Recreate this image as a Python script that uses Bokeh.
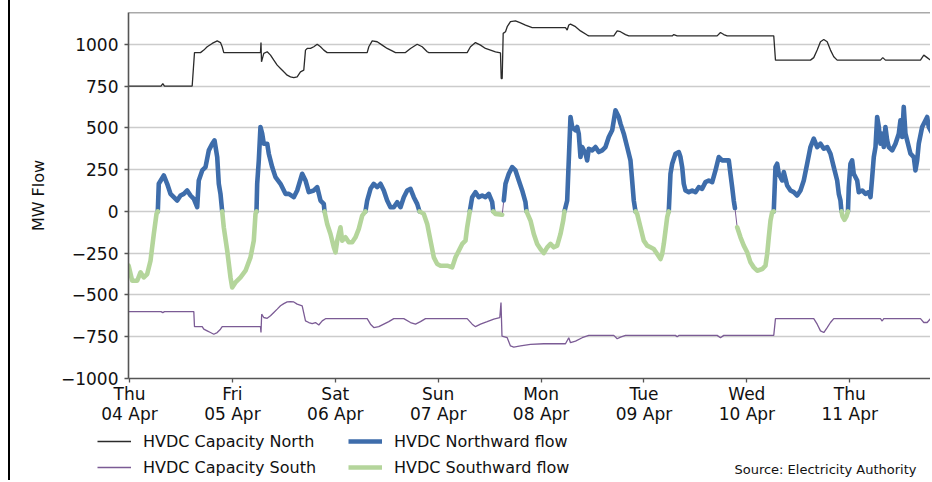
import numpy as np
import pandas as pd
from bokeh.plotting import figure
from bokeh.layouts import row, column
from bokeh.models import (Range1d, FixedTicker, DatetimeTickFormatter, Legend,
                          LegendItem, Label, Span, Div, Spacer)
from bokeh.embed import file_html
from bokeh.resources import INLINE

START = "2024-04-04"
DAY_TICKS = pd.date_range(START, periods=8, freq="D")
Y_TICKS = [-1000, -750, -500, -250, 0, 250, 500, 750, 1000]

# HVDC net flow (MW), positive = northward; hours after 04 Apr 00:00
flow_hours = [
    -0.2, 0.63, 1.80, 2.57, 3.34, 4.13, 4.90, 5.67, 6.30, 6.60, 6.83, 8.00, 8.79, 9.56,
    10.33, 11.13, 11.90, 12.66, 13.46, 14.23, 15.00, 15.79, 16.16, 16.96, 17.73, 18.50,
    19.29, 19.83, 20.46, 20.83, 21.22, 21.62, 21.99, 22.79, 23.56, 23.95, 24.72, 25.89,
    27.06, 28.22, 28.99, 29.39, 29.62, 29.78, 30.16, 30.55, 30.95, 31.32, 32.12, 32.49,
    33.28, 34.05, 35.22, 36.38, 37.16, 38.32, 39.11, 40.28, 41.05, 41.82, 42.99, 43.78,
    44.55, 45.32, 45.48, 46.11, 46.88, 47.65, 48.05, 48.45, 48.82, 49.21, 49.61, 50.38,
    51.15, 51.94, 52.71, 53.48, 54.28, 55.04, 55.44, 56.21, 56.98, 57.77, 58.54, 59.31,
    60.10, 60.87, 61.64, 62.44, 63.21, 63.98, 64.77, 65.54, 66.31, 67.10, 67.64, 68.64,
    69.44, 70.21, 70.98, 71.77, 72.54, 74.10, 75.27, 76.04, 76.81, 77.60, 78.37, 78.76,
    79.37, 79.93, 80.70, 81.47, 82.26, 83.03, 83.80, 84.60, 84.83, 85.36, 86.93, 87.30,
    87.70, 88.47, 89.26, 90.03, 90.80, 91.59, 92.36, 92.59, 93.53, 94.30, 95.09, 95.86,
    96.63, 97.43, 98.20, 98.97, 99.76, 100.53, 101.16, 101.46, 102.09, 102.86, 103.25,
    104.03, 104.42, 104.79, 105.19, 105.59, 106.36, 106.75, 107.13, 107.92, 108.69,
    109.46, 110.25, 111.02, 111.79, 112.58, 113.35, 114.12, 114.52, 115.29, 116.08,
    116.85, 117.24, 117.62, 118.02, 118.41, 119.18, 119.95, 120.75, 121.52, 122.29,
    123.08, 123.85, 124.25, 124.62, 125.02, 125.41, 125.78, 126.18, 126.58, 127.35,
    128.12, 128.51, 128.91, 129.28, 129.68, 130.45, 131.24, 132.01, 132.78, 133.57,
    134.34, 135.11, 135.91, 136.68, 137.45, 138.24, 139.01, 139.78, 140.17, 140.57,
    140.94, 141.22, 141.74, 142.51, 143.28, 144.07, 144.84, 145.61, 146.41, 147.57,
    148.34, 148.74, 149.11, 149.51, 149.90, 150.27, 150.67, 151.07, 151.44, 152.23,
    152.61, 153.40, 154.17, 154.94, 155.73, 156.50, 157.27, 158.06, 158.83, 159.60,
    160.40, 161.17, 161.94, 162.73, 163.50, 164.27, 165.06, 165.44, 165.83, 166.06,
    166.30, 166.76, 167.23, 167.58, 167.77, 168.16, 168.56, 168.93, 169.73, 170.10,
    170.90, 171.67, 172.44, 172.84, 173.23, 173.60, 174.00, 174.39, 174.77, 175.16,
    175.56, 175.93, 176.32, 176.72, 177.09, 177.89, 178.66, 179.43, 179.82, 180.22,
    180.59, 180.99, 181.38, 182.16, 182.93, 183.32, 183.72, 184.09, 184.88, 185.26,
    186.05, 186.42, 186.82, 187.29,
]
flow_mw = [
    -325, -415, -415, -365, -395, -375, -295, -135, -15, 0, 165, 215, 165, 105,
    85, 65, 95, 105, 125, 95, 75, 25, 185, 245, 265, 365,
    405, 425, 325, 165, 105, 0, -95, -235, -395, -455, -425, -395,
    -355, -275, -175, -15, 0, 165, 305, 505, 465, 405, 405, 345,
    265, 205, 165, 105, 105, 85, 125, 225, 185, 115, 125, 145,
    65, 45, 0, -75, -135, -215, -245, -175, -135, -95, -175, -155,
    -185, -185, -155, -105, -25, 0, 65, 135, 165, 145, 165, 125,
    65, 25, 25, 55, 25, 85, 125, 135, 85, 45, 0, -15,
    -75, -175, -275, -315, -325, -325, -335, -275, -235, -195, -175, -95,
    0, 85, 115, 85, 95, 85, 105, 55, 0, -15, -20, 65,
    165, 225, 265, 245, 185, 125, 55, 0, -55, -135, -195, -225,
    -250, -215, -195, -215, -205, -135, -55, 0, 65, 565, 505,
    485, 505, 465, 325, 385, 345, 305, 375, 365, 385,
    355, 365, 385, 445, 485, 605, 565, 525, 465, 385,
    305, 185, 65, 0, -15, -95, -175, -205, -215, -225,
    -255, -285, -255, -195, -115, -35, 0, 225, 285, 345,
    355, 325, 265, 165, 125, 115, 125, 115, 145, 135,
    175, 185, 175, 245, 325, 305, 305, 305, 225, 145,
    65, 20, -95, -155, -205, -245, -305, -335, -355, -345,
    -325, -255, -155, -55, -5, 0, 265, 285, 225, 185,
    235, 155, 125, 115, 95, 125, 185, 285, 385, 435,
    385, 405, 375, 385, 345, 265, 185, 105, 65, 0,
    -30, -50, -30, 0, 145, 285, 305, 225, 185, 115,
    125, 105, 115, 85, 205, 325, 385, 565, 505, 405,
    465, 385, 505, 425, 385, 365, 405, 465, 545, 445,
    625, 465, 425, 345, 325, 245, 305, 405, 505, 525,
    565, 505, 485, 465,
]

# HVDC capacity north (MW)
capn_hours = [
    -0.2, 7.35, 7.77, 8.16, 14.62, 15.16, 16.56, 17.33, 18.12, 19.29, 20.46, 21.22, 21.62,
    21.99, 30.55, 30.67, 30.79, 31.32, 32.12, 32.89, 33.66, 34.45, 35.22, 35.99, 36.78,
    37.55, 38.32, 39.11, 39.88, 40.65, 41.05, 41.45, 42.22, 42.99, 43.78, 44.55, 45.32,
    46.11, 55.44, 55.82, 56.61, 57.77, 58.94, 60.10, 61.27, 62.04, 64.37, 65.54, 67.10,
    68.27, 69.44, 69.81, 78.76, 79.53, 80.70, 81.87, 83.03, 84.20, 85.37, 86.53, 86.70,
    86.93, 87.16, 87.70, 88.10, 88.86, 90.03, 91.20, 92.36, 93.93, 101.69, 102.09, 102.46,
    102.86, 104.03, 105.19, 106.75, 107.13, 112.96, 113.75, 114.52, 115.69, 116.46,
    126.58, 126.95, 127.74, 137.07, 137.84, 138.61, 139.40, 150.27, 150.67, 158.83,
    159.60, 160.40, 161.17, 161.94, 162.73, 163.50, 164.27, 165.06, 175.16, 175.70,
    176.32, 184.49, 185.26, 186.05, 186.82, 187.29,
]
capn_mw = [
    750, 750, 765, 750, 750, 950, 950, 965, 985, 1005, 1020, 1010, 985,
    950, 950, 1010, 895, 945, 955, 935, 905, 875, 855, 835, 815,
    805, 800, 805, 835, 845, 965, 975, 975, 985, 1000, 985, 965,
    950, 950, 985, 1020, 1015, 995, 975, 960, 950, 950, 975, 1000,
    985, 955, 950, 950, 985, 1010, 995, 975, 965, 955, 948, 795,
    795, 1065, 1075, 1105, 1135, 1140, 1128, 1115, 1100, 1100, 1085, 1115,
    1120, 1105, 1080, 1055, 1050, 1050, 1080, 1075, 1058, 1050,
    1050, 1058, 1050, 1050, 1070, 1058, 1050, 1050, 905, 905,
    920, 965, 1015, 1028, 1015, 965, 925, 905, 905, 920,
    905, 905, 935, 920, 905, 905,
]

# HVDC capacity south (MW, negative = southward)
caps_hours = [
    -0.2, 7.35, 7.77, 8.16, 15.00, 15.16, 16.96, 17.33, 18.12, 18.89, 19.66, 20.46, 21.22,
    21.62, 30.55, 30.67, 30.83, 31.32, 32.12, 32.89, 33.66, 34.45, 35.22, 35.99, 36.78,
    37.55, 38.32, 39.11, 40.28, 41.05, 41.82, 42.61, 43.38, 44.15, 44.95, 45.72, 55.44,
    56.21, 56.98, 58.15, 59.31, 60.48, 61.64, 63.98, 65.54, 66.71, 67.87, 69.04, 78.76,
    79.93, 80.70, 81.87, 83.43, 84.97, 86.37, 86.65, 86.88, 88.10, 88.86, 89.63, 91.20,
    93.53, 96.63, 101.69, 102.46, 102.86, 104.03, 105.59, 107.13, 112.96, 113.75, 114.52,
    115.69, 127.35, 127.74, 128.12, 137.07, 137.84, 138.61, 150.27, 150.67, 159.60,
    160.40, 161.17, 161.94, 162.73, 163.50, 164.27, 175.16, 175.56, 175.93, 184.49,
    185.26, 186.05, 186.82, 187.29,
]
caps_mw = [
    -600, -600, -606, -600, -600, -690, -690, -705, -715, -725, -735, -725, -705,
    -690, -690, -725, -615, -635, -640, -625, -605, -585, -565, -552, -542,
    -540, -542, -555, -565, -655, -665, -672, -665, -680, -655, -642, -642,
    -675, -695, -690, -675, -660, -642, -642, -665, -675, -660, -642, -642,
    -675, -690, -675, -660, -645, -636, -546, -746, -756, -805, -812, -805,
    -796, -792, -792, -756, -786, -776, -756, -742, -742, -762, -752,
    -742, -742, -750, -742, -742, -756, -742, -742, -642, -642,
    -675, -715, -725, -695, -665, -642, -642, -656, -642, -642,
    -665, -665, -642, -626,
]

LEGEND_LABELS = ["HVDC Capacity North", "HVDC Capacity South",
                 "HVDC Northward flow", "HVDC Southward flow"]
SOURCE_TEXT = "Source: Electricity Authority"

t0 = pd.Timestamp(START)


def to_time(hours):
    return t0 + pd.to_timedelta(np.asarray(hours, dtype=float), unit="h")


flow = np.asarray(flow_mw, dtype=float)
north_part = np.where(flow >= 0, flow, np.nan)
south_part = np.where(flow <= 0, flow, np.nan)
ft = to_time(flow_hours)

FONT = "DejaVu Sans"
C_NORTH_CAP = "#2b2b2b"
C_SOUTH_CAP = "#7b5b95"
C_NORTH = "#3e6dab"
C_SOUTH = "#b4d59b"
SPINE = "#555555"
W_THIN = 1.3
W_THICK = 4.6

TOTAL_W, TOTAL_H = 930, 480
PAD_L, STRIP_W = 8, 2
FIG_W = TOTAL_W - PAD_L - STRIP_W
TOP_H = 428

x_start = (t0 + pd.Timedelta(hours=-0.233)).to_pydatetime()
x_end = (t0 + pd.Timedelta(hours=186.83)).to_pydatetime()

p = figure(width=FIG_W, height=TOP_H, x_axis_type="datetime",
           x_range=Range1d(x_start, x_end), y_range=Range1d(-1000, 1190),
           output_backend="svg", toolbar_location=None,
           min_border_left=118, min_border_right=0, min_border_top=12,
           min_border_bottom=50)
p.frame_align = False
p.outline_line_color = None
p.background_fill_color = "white"
p.border_fill_color = "white"

p.xaxis.ticker = FixedTicker(ticks=[d.value // 10**6 for d in DAY_TICKS])
fmt = "%a\n%d %b"
p.xaxis.formatter = DatetimeTickFormatter(days=fmt, months=fmt, hours=fmt,
                                          hourmin=fmt, minutes=fmt, years=fmt)
p.yaxis.ticker = FixedTicker(ticks=Y_TICKS)
for ax in (p.xaxis, p.yaxis):
    ax.axis_line_color = SPINE
    ax.axis_line_width = 1.6
    ax.major_tick_line_color = SPINE
    ax.major_tick_line_width = 1.3
    ax.major_tick_out = 4
    ax.major_tick_in = 0
    ax.minor_tick_out = 0
    ax.minor_tick_in = 0
    ax.major_label_text_font = FONT
    ax.major_label_text_font_size = "17px"
    ax.major_label_text_color = "#111111"
p.xaxis.major_label_standoff = 1
p.xaxis.major_label_text_line_height = 1.04
p.yaxis.major_label_standoff = 6
p.yaxis.axis_label = "MW Flow"
p.yaxis.axis_label_text_font = FONT
p.yaxis.axis_label_text_font_size = "16px"
p.yaxis.axis_label_text_font_style = "normal"
p.yaxis.axis_label_text_color = "#111111"
p.yaxis.axis_label_standoff = 10

p.xgrid.visible = False
p.ygrid.ticker = FixedTicker(ticks=Y_TICKS)
p.ygrid.grid_line_color = "#cccccc"
p.ygrid.grid_line_width = 1.3

p.add_layout(Span(location=1190, dimension="width", line_color=SPINE, line_width=1.6))

p.line(to_time(capn_hours), capn_mw, line_color=C_NORTH_CAP, line_width=W_THIN)
p.line(to_time(caps_hours), caps_mw, line_color=C_SOUTH_CAP, line_width=W_THIN)
p.line(ft, flow, line_color=C_SOUTH_CAP, line_width=1)
p.line(ft, north_part, line_color=C_NORTH, line_width=W_THICK, line_join="round", line_cap="round")
p.line(ft, south_part, line_color=C_SOUTH, line_width=W_THICK, line_join="round", line_cap="round")

# legend / source strip (coordinates of this strip follow the page's pixels)
x0_page = PAD_L + STRIP_W
p2 = figure(width=FIG_W, height=TOTAL_H - TOP_H,
            x_range=Range1d(x0_page, x0_page + FIG_W), y_range=Range1d(TOTAL_H, TOP_H),
            output_backend="svg", toolbar_location=None,
            x_axis_location=None, y_axis_location=None, min_border=0)
p2.frame_align = False
p2.outline_line_color = None
p2.grid.visible = False
p2.background_fill_color = "white"
p2.border_fill_color = "white"

styles = [(C_NORTH_CAP, W_THIN), (C_SOUTH_CAP, W_THIN), (C_NORTH, W_THICK), (C_SOUTH, W_THICK)]
swatches = [p2.line(x=[np.nan], y=[np.nan], line_color=c, line_width=w) for c, w in styles]

common = dict(label_text_font=FONT, label_text_font_size="16px", label_text_color="#111111",
              border_line_color=None, background_fill_alpha=0, padding=0, margin=0,
              spacing=6, glyph_width=34, glyph_height=20, label_height=20,
              label_standoff=12)
leg1 = Legend(items=[LegendItem(label=LEGEND_LABELS[0], renderers=[swatches[0]]),
                     LegendItem(label=LEGEND_LABELS[1], renderers=[swatches[1]])],
              location=(97 - x0_page, 3), **common)
leg2 = Legend(items=[LegendItem(label=LEGEND_LABELS[2], renderers=[swatches[2]]),
                     LegendItem(label=LEGEND_LABELS[3], renderers=[swatches[3]])],
              location=(348 - x0_page, 3), **common)
p2.add_layout(leg1)
p2.add_layout(leg2)
p2.add_layout(Label(x=916, y=469, text=SOURCE_TEXT, text_align="right",
                    text_baseline="middle", text_font=FONT, text_font_size="13px",
                    text_color="#111111"))

strip = Div(width=STRIP_W, height=TOTAL_H, margin=0,
            styles={"background-color": "#000000"})
layout = row(Spacer(width=PAD_L, height=TOTAL_H, margin=0), strip, column(p, p2))

open("out.html", "w").write(file_html(layout, INLINE))
